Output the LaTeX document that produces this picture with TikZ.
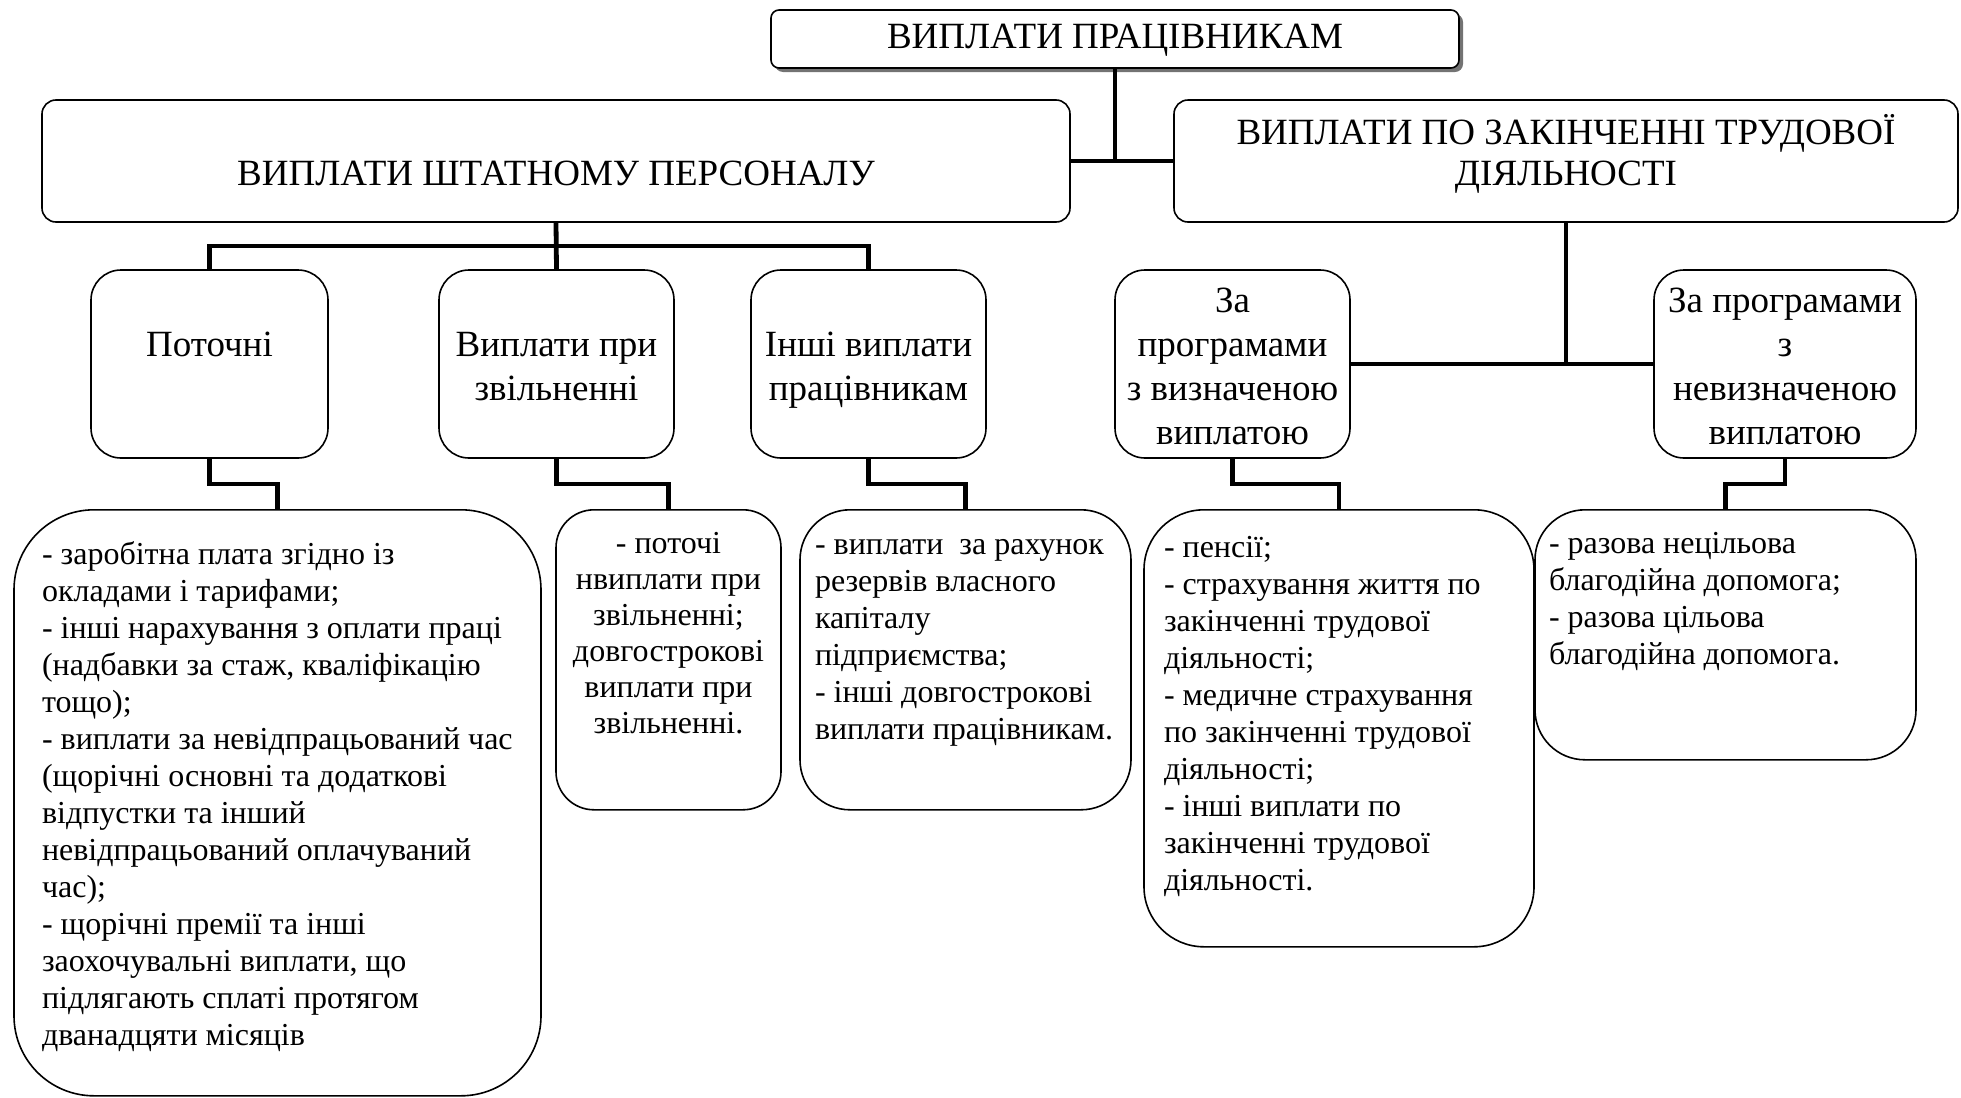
\documentclass[tikz,border=0pt]{standalone}
\usepackage{fontspec}
\setmainfont{Liberation Serif}
\usetikzlibrary{calc,shadows}

\begin{document}
\begin{tikzpicture}[x=0.5pt,y=-0.5pt,
  box/.style={draw,line width=0.8pt,fill=white,rounded corners=#1,inner sep=0pt,
    align=center,font=\fontsize{18.5}{22}\selectfont},
  detail/.style={draw,line width=0.8pt,rounded corners=#1,anchor=north,
    font=\fontsize{16}{18.5}\selectfont},
  link/.style={line width=2.4pt}]

\useasboundingbox (0,0) rectangle (1961,1098);

% Верхній рівень
\node[box=4pt,minimum width=344pt,minimum height=29pt,
  drop shadow={shadow xshift=2pt,shadow yshift=-2pt,fill=black!55,opacity=1}]
  (top) at (1115,39) {\rule{0pt}{16.5pt}ВИПЛАТИ ПРАЦІВНИКАМ\strut};

\node[box=7pt,minimum width=514pt,minimum height=61pt] (staff) at (556,161)
  {\rule{0pt}{31pt}ВИПЛАТИ ШТАТНОМУ ПЕРСОНАЛУ\strut};
\node[box=7pt,minimum width=392pt,minimum height=61pt,
  font=\fontsize{18.5}{20.5}\selectfont] (post) at (1566,161)
  {\rule{0pt}{16.5pt}ВИПЛАТИ ПО ЗАКІНЧЕННІ ТРУДОВОЇ\\ДІЯЛЬНОСТІ\rule[-12.75pt]{0pt}{0pt}};

% Другий рівень
\node[box=15pt,minimum width=118.5pt,minimum height=94pt] (cur) at (209.5,364)
  {\rule{0pt}{21.4pt}Поточні\\\strut};
\node[box=15pt,minimum width=117.5pt,minimum height=94pt] (dism) at (556.5,364)
  {\rule{0pt}{21.4pt}Виплати при\\звільненні\strut};
\node[box=15pt,minimum width=117.5pt,minimum height=94pt] (oth) at (868.5,364)
  {\rule{0pt}{21.4pt}Інші виплати\\працівникам\strut};
\node[box=15pt,minimum width=117.5pt,minimum height=94pt] (def) at (1232.5,364)
  {\rule{0pt}{21.4pt}За\\програмами\\з визначеною\\виплатою\strut};
\node[box=15pt,minimum width=131pt,minimum height=94pt] (undef) at (1785,364)
  {\rule{0pt}{21.4pt}За програмами\\з\\невизначеною\\виплатою\strut};

% Третій рівень
\node[detail=40pt,inner xsep=14pt,inner ysep=16pt] (curD) at (277.5,509)
  {\parbox[c][261pt][t]{235.5pt}{\raggedright
  - заробітна плата згідно із\\
  окладами і тарифами;\\
  - інші нарахування з оплати праці\\
  (надбавки за стаж, кваліфікацію\\
  тощо);\\
  - виплати за невідпрацьований час\\
  (щорічні основні та додаткові\\
  відпустки та інший\\
  невідпрацьований оплачуваний\\
  час);\\
  - щорічні премії та інші\\
  заохочувальні виплати, що\\
  підлягають сплаті протягом\\
  дванадцяти місяців}};

\node[detail=19pt,inner xsep=4pt,inner ysep=11.5pt,
  font=\fontsize{16}{18}\selectfont] (dismD) at (668.5,509)
  {\parbox[c][127pt][t]{104.5pt}{\centering
  - поточі\\
  нвиплати при\\
  звільненні;\\
  довгострокові\\
  виплати при\\
  звільненні.}};

\node[detail=25pt,inner xsep=7.5pt,inner ysep=15pt] (othD) at (965.5,509)
  {\parbox[c][120pt][t]{150.5pt}{\raggedright
  - виплати~ за рахунок\\
  резервів власного\\
  капіталу\\
  підприємства;\\
  - інші довгострокові\\
  виплати працівникам.}};

\node[detail=30pt,inner xsep=10pt,inner ysep=13.25pt] (defD) at (1339,509)
  {\parbox[c][192pt][t]{175pt}{\raggedright
  - пенсії;\\
  - страхування життя по\\
  закінченні трудової\\
  діяльності;\\
  - медичне страхування\\
  по закінченні трудової\\
  діяльності;\\
  - інші виплати по\\
  закінченні трудової\\
  діяльності.}};

\node[detail=25pt,inner xsep=7pt,inner ysep=11.5pt] (undefD) at (1725.5,509)
  {\parbox[c][102pt][t]{176.5pt}{\raggedright
  - разова нецільова\\
  благодійна допомога;\\
  - разова цільова\\
  благодійна допомога.}};

% Зв'язки
\draw[link] (top.south) -- (top.south |- staff.east);
\draw[link] (staff.east) -- (post.west);

\draw[link] (staff.south) -- (dism.north);
\draw[link] (cur.north) |- ($(staff.south)!0.5!(dism.north)$) -| (oth.north);

\draw[link] (post.south) -- (post.south |- def.east);
\draw[link] (def.east) -- (undef.west);

\foreach \a/\b in {cur/curD,dism/dismD,oth/othD,def/defD,undef/undefD}
  \draw[link] (\a.south) |- ($(\a.south)!0.5!(\b.north)$) -| (\b.north);

\end{tikzpicture}
\end{document}
